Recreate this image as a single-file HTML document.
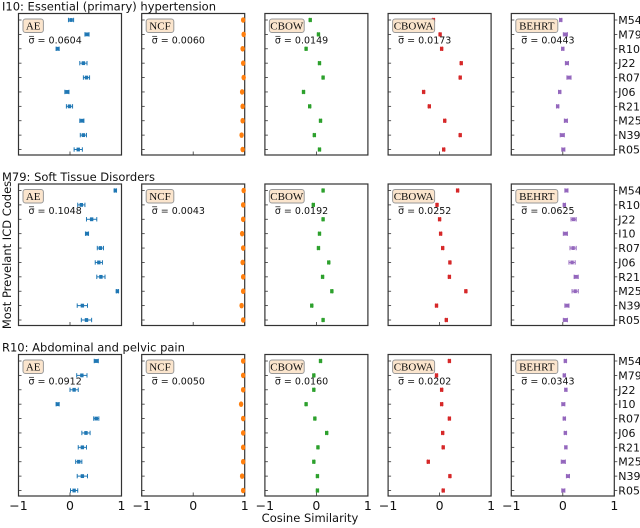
<!DOCTYPE html>
<html><head><meta charset="utf-8"><style>
html,body{margin:0;padding:0;background:#fff;}
svg{display:block;font-family:"DejaVu Sans","Liberation Sans",sans-serif;}
</style></head><body>
<svg id="chart" width="640" height="528" viewBox="0 0 640 528" xmlns="http://www.w3.org/2000/svg">
<text transform="translate(11,255) rotate(-90)" text-anchor="middle" font-size="11.5" fill="#111">Most Prevelant ICD Codes</text>
<text x="310" y="522" text-anchor="middle" font-size="11.5" fill="#111">Cosine Similarity</text>
</svg>
<script>
const models = ["AE","NCF","CBOW","CBOWA","BEHRT"];
const colors = ["#1f77b4","#ff7f0e","#2ca02c","#d62728","#9467bd"];
const rowTitles = ["I10: Essential (primary) hypertension","M79: Soft Tissue Disorders","R10: Abdominal and pelvic pain"];
const codesRow1 = ["M54","M79","R10","J22","R07","J06","R21","M25","N39","R05"];
const codesRow2 = ["M54","R10","J22","I10","R07","J06","R21","M25","N39","R05"];
const codesRow3 = ["M54","M79","J22","I10","R07","J06","R21","M25","N39","R05"];
const sigmaRow1 = ["0.0604","0.0060","0.0149","0.0173","0.0443"];
const sigmaRow2 = ["0.1048","0.0043","0.0192","0.0252","0.0625"];
const sigmaRow3 = ["0.0912","0.0050","0.0160","0.0202","0.0343"];
// row 1 values
const r1AE    = [0.02,0.33,-0.24,0.26,0.32,-0.06,-0.01,0.23,0.26,0.16];
const r1AEerr = [0.05,0.04,0.03,0.07,0.06,0.04,0.06,0.04,0.06,0.08];
const r1NCF   = [0.97,0.98,0.96,0.97,0.98,0.95,0.96,0.96,0.94,0.96];
const r1CBOW  = [-0.12,0.04,-0.2,0.06,0.13,-0.25,-0.13,0.08,-0.04,0.06];
const r1CBOWA = [-0.12,0.01,0.04,0.42,0.40,-0.31,-0.2,0.1,0.4,0.08];
const r1BEHRT = [-0.04,0.05,0.0,0.08,0.12,-0.06,-0.1,0.06,-0.01,0.01];
const r1BEHRTerr = [0.02,0.04,0.02,0.03,0.04,0.02,0.02,0.03,0.04,0.03];
// row 2 values
const r2AE    = [0.88,0.22,0.42,0.33,0.59,0.56,0.6,0.92,0.24,0.32];
const r2AEerr = [0.02,0.07,0.1,0.03,0.06,0.07,0.08,0.02,0.1,0.1];
const r2NCF   = [0.98,0.97,0.97,0.95,0.97,0.96,0.97,0.97,0.94,0.97];
const r2CBOW  = [0.13,-0.06,0.13,0.06,0.04,0.24,0.12,0.3,-0.09,0.13];
const r2CBOWA = [0.35,-0.05,0.0,0.02,0.06,0.2,0.19,0.51,-0.06,0.13];
const r2BEHRT = [0.07,0.03,0.21,0.05,0.2,0.18,0.26,0.24,0.08,0.05];
const r2BEHRTerr = [0.03,0.02,0.05,0.04,0.06,0.06,0.04,0.06,0.04,0.04];
// row 3 values
const r3AE    = [0.51,0.23,0.08,-0.24,0.51,0.31,0.24,0.17,0.24,0.08];
const r3AEerr = [0.04,0.1,0.08,0.03,0.05,0.08,0.08,0.06,0.1,0.07];
const r3NCF   = [0.97,0.97,0.97,0.93,0.97,0.97,0.97,0.97,0.95,0.97];
const r3CBOW  = [0.08,-0.05,-0.05,-0.2,-0.03,0.2,0.03,-0.05,0.02,0.02];
const r3CBOWA = [0.19,-0.06,0.04,0.04,0.19,0.06,0.07,-0.22,0.2,0.07];
const r3BEHRT = [0.05,0.03,0.06,0.01,0.03,0.05,0.06,0.01,0.1,0.01];
const r3BEHRTerr = [0.02,0.02,0.02,0.03,0.02,0.02,0.02,0.04,0.03,0.03];
const xTicks = [-1,0,1];
const xTickLabels = ["\u22121","0","1"];

const rows = [
  {codes:codesRow1, sigma:sigmaRow1, vals:[r1AE,r1NCF,r1CBOW,r1CBOWA,r1BEHRT], errs:[r1AEerr,null,null,null,r1BEHRTerr]},
  {codes:codesRow2, sigma:sigmaRow2, vals:[r2AE,r2NCF,r2CBOW,r2CBOWA,r2BEHRT], errs:[r2AEerr,null,null,null,r2BEHRTerr]},
  {codes:codesRow3, sigma:sigmaRow3, vals:[r3AE,r3NCF,r3CBOW,r3CBOWA,r3BEHRT], errs:[r3AEerr,null,null,null,r3BEHRTerr]}
];
const NS="http://www.w3.org/2000/svg";
const svg=document.getElementById('chart');
function mk(tag,attrs,parent){const e=document.createElementNS(NS,tag);for(const k in attrs)e.setAttribute(k,attrs[k]);(parent||svg).appendChild(e);return e;}
const PW=103, PH=141.5;
rows.forEach((row,ri)=>{
  const top=13.5+ri*170.5;
  const t=mk('text',{x:2,y:top-3,'font-size':11.5,fill:'#111'});
  
  
  t.textContent=rowTitles[ri];
  const yScale=i=>top+6.5+i*14.39;
  models.forEach((m,mi)=>{
    const left=18.5+mi*123.2;
    const xScale=v=>left+(v+1)/2*PW;
    const g=mk('g',{});
    
    
    mk('rect',{x:left,y:top,width:PW,height:PH,fill:'none',stroke:'#333','stroke-width':1.2},g);
    row.codes.forEach((c,i)=>{
      const y=yScale(i);
      mk('line',{x1:left,x2:left+3,y1:y,y2:y,stroke:'#333','stroke-width':0.8},g);
      if(mi===4){
        mk('line',{x1:left+PW,x2:left+PW+3,y1:y,y2:y,stroke:'#333','stroke-width':0.8},g);
        const lt=mk('text',{x:left+PW+4,y:y+4,'font-size':11,fill:'#111'},g);
        
        
        lt.textContent=c;
      }
    });
    xTicks.forEach((tv,ti)=>{
      const x=xScale(tv);
      mk('line',{x1:x,x2:x,y1:top+PH,y2:top+PH-3.5,stroke:'#333','stroke-width':0.8},g);
      if(ri===2){
        const tl=mk('text',{x:x,y:top+PH+14,'font-size':12.5,'text-anchor':'middle',fill:'#111'},g);
        
        
        tl.textContent=xTickLabels[ti];
      }
    });
    const col=colors[mi];
    row.vals[mi].forEach((v,i)=>{
      const y=yScale(i), x=xScale(v);
      const er=row.errs[mi]?row.errs[mi][i]:0.015;
      const x1=xScale(v-er), x2=xScale(v+er);
      mk('line',{x1:x1,x2:x2,y1:y,y2:y,stroke:col,'stroke-width':1},g);
      mk('line',{x1:x1,x2:x1,y1:y-2.2,y2:y+2.2,stroke:col,'stroke-width':1},g);
      mk('line',{x1:x2,x2:x2,y1:y-2.2,y2:y+2.2,stroke:col,'stroke-width':1},g);
      let p;
      if(mi===1) p=mk('ellipse',{cx:x,cy:y,rx:2.2,ry:2.8,fill:col},g);
      else p=mk('rect',{x:x-1.7,y:y-1.9,width:3.4,height:3.8,fill:col},g);
      
      
    });
    const bw=m.length*7.2+6;
    const lb=mk('rect',{x:left+4.5,y:top+5.5,width:bw,height:13.5,rx:2.5,fill:'#fbe5cd',stroke:'#999','stroke-width':1},g);
    
    
    const lt=mk('text',{x:left+4.5+bw/2,y:top+16,'font-size':11,'text-anchor':'middle','font-family':'"Liberation Serif",serif',fill:'#111'},g);
    lt.textContent=m;
    const st=mk('text',{x:left+10,y:top+30,'font-size':9.5,fill:'#111'},g);
    
    
    st.textContent='\u03C3\u0305 = '+row.sigma[mi];
  });
});
</script>
</body></html>
